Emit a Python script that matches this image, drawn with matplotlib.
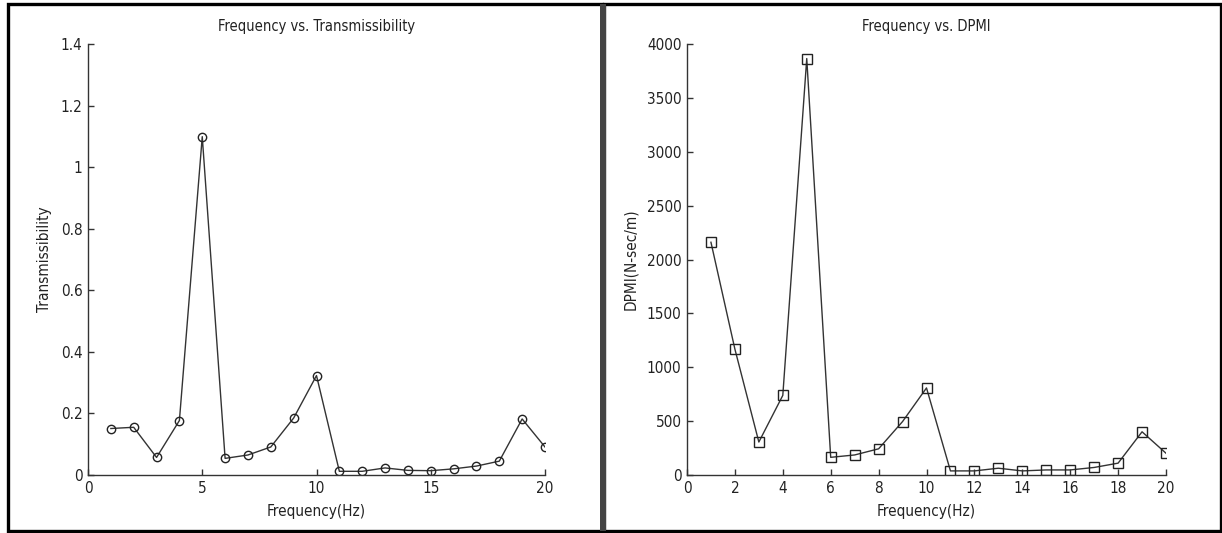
import matplotlib
matplotlib.use("Agg")
import matplotlib.pyplot as plt
from matplotlib.patches import Rectangle

freq = list(range(1, 21))
transmissibility = [0.151, 0.155, 0.057, 0.177, 1.099, 0.054, 0.065, 0.091, 0.185, 0.323,
                    0.012, 0.012, 0.023, 0.015, 0.014, 0.020, 0.029, 0.045, 0.182, 0.091]
dpmi = [2160, 1168, 306, 739, 3865, 164, 186, 243, 496, 808,
        38, 38, 63, 38, 47, 47, 70, 110, 401, 202]

left_xticks = [0, 5, 10, 15, 20]
right_xticks = list(range(0, 21, 2))
left_yticks = [0, 0.2, 0.4, 0.6, 0.8, 1, 1.2, 1.4]
left_yticklabels = ["0", "0.2", "0.4", "0.6", "0.8", "1", "1.2", "1.4"]
right_yticks = [0, 500, 1000, 1500, 2000, 2500, 3000, 3500, 4000]

plt.rcParams['font.family'] = ['Liberation Sans Narrow', 'DejaVu Sans']
plt.rcParams['font.stretch'] = 'condensed'
plt.rcParams['font.size'] = 10.5
txt = '#222222'

W, H = 1222, 533
fig = plt.figure(figsize=(W / 100, H / 100), dpi=100)

def fx(px):
    return px / W

def fy(py):
    return 1 - py / H

# panel frames
fig.patches.append(Rectangle((fx(8), fy(531)), fx(602) - fx(8), fy(4) - fy(531),
                             transform=fig.transFigure, fill=False, lw=2.4, ec='black'))
fig.patches.append(Rectangle((fx(604), fy(531)), fx(1221) - fx(604), fy(4) - fy(531),
                             transform=fig.transFigure, fill=False, lw=2.4, ec='black'))
fig.patches.append(Rectangle((fx(600), fy(531)), fx(606) - fx(600), fy(4) - fy(531),
                             transform=fig.transFigure, fill=True, lw=0, fc='#444444'))

ax1 = fig.add_axes([fx(88), fy(475), fx(545) - fx(88), fy(44) - fy(475)])
ax2 = fig.add_axes([fx(687), fy(475), fx(1166) - fx(687), fy(44) - fy(475)])

line_c = '#333333'
ax1.plot(freq, transmissibility, color=line_c, lw=1.0, marker='o', ms=6,
         mfc='none', mec='#222222', mew=1.0)
ax2.plot(freq, dpmi, color=line_c, lw=1.0, marker='s', ms=7,
         mfc='none', mec='#222222', mew=1.0)

ax1.set_xlim(0, 20)
ax1.set_ylim(0, 1.4)
ax1.set_xticks(left_xticks)
ax1.set_yticks(left_yticks)
ax1.set_yticklabels(left_yticklabels)
ax1.set_title("Frequency vs. Transmissibility", color=txt, pad=9, fontsize=10.5)
ax1.set_xlabel("Frequency(Hz)", color=txt, labelpad=6, fontsize=11)
ax1.set_ylabel("Transmissibility", color=txt, labelpad=6, fontsize=11)

ax2.set_xlim(0, 20)
ax2.set_ylim(0, 4000)
ax2.set_xticks(right_xticks)
ax2.set_yticks(right_yticks)
ax2.set_title("Frequency vs. DPMI", color=txt, pad=9, fontsize=10.5)
ax2.set_xlabel("Frequency(Hz)", color=txt, labelpad=6, fontsize=11)
ax2.set_ylabel("DPMI(N-sec/m)", color=txt, labelpad=6, fontsize=11)

for ax in (ax1, ax2):
    ax.spines['top'].set_visible(False)
    ax.spines['right'].set_visible(False)
    for s in ('left', 'bottom'):
        ax.spines[s].set_color('#333333')
        ax.spines[s].set_linewidth(1.0)
    ax.tick_params(direction='in', length=4, width=1.0, color='#333333',
                   labelcolor=txt, labelsize=11, pad=4)
    ax.set_facecolor('none')

fig.savefig("out.png", dpi=100, facecolor='white')
